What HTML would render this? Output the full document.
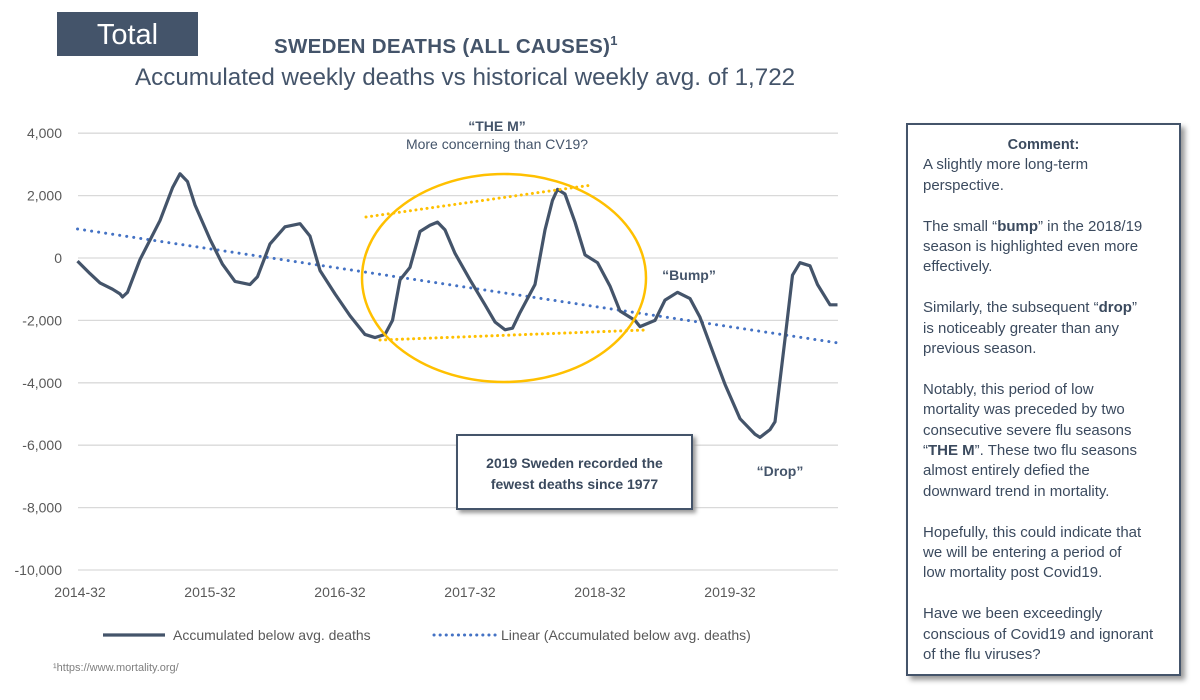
<!DOCTYPE html>
<html><head><meta charset="utf-8">
<style>
body{margin:0;width:1200px;height:700px;background:#fff;font-family:"Liberation Sans",sans-serif;color:#44546a;position:relative;overflow:hidden}
.abs{position:absolute}
#comment{left:906px;top:123px;height:553px;width:275px;border:2px solid #44546a;box-shadow:4px 4px 5px #999;background:#fff;padding:0 0 0 15px;box-sizing:border-box;font-size:15px;line-height:20.4px;color:#3b4a5e;white-space:nowrap}
#comment p{margin:0 0 20.4px 0}
</style></head><body>
<div class="abs" style="left:57px;top:12px;width:141px;height:44px;background:#44546a;color:#fff;font-size:29px;line-height:46px;text-align:center">Total</div>
<div class="abs" style="left:274px;top:33px;font-size:20.5px;font-weight:bold;color:#44546a;letter-spacing:0.3px">SWEDEN DEATHS (ALL CAUSES)<sup style="font-size:13px">1</sup></div>
<div class="abs" style="left:135px;top:64px;font-size:24.2px;color:#44546a">Accumulated weekly deaths vs historical weekly avg. of 1,722</div>
<svg class="abs" style="left:0;top:0" width="900" height="700" id="chart"></svg>
<div class="abs" style="left:456px;top:434px;width:237px;height:76px;border:2px solid #44546a;box-sizing:border-box;box-shadow:3px 3px 4px #999;background:#fff;text-align:center;font-size:14px;font-weight:bold;line-height:21px;padding-top:17px;color:#3b4a5e">2019 Sweden recorded the<br>fewest deaths since 1977</div>
<div id="comment" class="abs">
<div style="text-align:center;font-weight:bold;margin-top:10px;padding-right:15px;font-size:14.5px">Comment:</div>
<p>A slightly more long-term<br>perspective.</p>
<p>The small “<b>bump</b>” in the 2018/19<br>season is highlighted even more<br>effectively.</p>
<p>Similarly, the subsequent “<b>drop</b>”<br>is noticeably greater than any<br>previous season.</p>
<p>Notably, this period of low<br>mortality was preceded by two<br>consecutive severe flu seasons<br>“<b>THE M</b>”. These two flu seasons<br>almost entirely defied the<br>downward trend in mortality.</p>
<p>Hopefully, this could indicate that<br>we will be entering a period of<br>low mortality post Covid19.</p>
<p>Have we been exceedingly<br>conscious of Covid19 and ignorant<br>of the flu viruses?</p>
</div>
<script>
const yTicks=[4000,2000,0,-2000,-4000,-6000,-8000,-10000];
const xLabels=["2014-32","2015-32","2016-32","2017-32","2018-32","2019-32"];
const weeks=[-1,4,8,13,16,17,19,24,32,37,40,43,46,52,57,62,68,71,76,82,88,92,96,102,108,114,118,122,125,128,132,136,140,143,146,150,156,162,166,170,173,176,182,186,189,191,194,198,202,207,212,216,222,224,230,234,239,244,248,254,258,264,270,272,276,278,282,285,288,292,295,300,303];
const values=[-100,-500,-800,-1000,-1150,-1250,-1100,-50,1200,2250,2700,2450,1700,600,-200,-750,-850,-600,450,1000,1100,700,-400,-1150,-1850,-2450,-2550,-2450,-2000,-700,-300,850,1050,1150,900,150,-700,-1500,-2050,-2300,-2250,-1750,-850,900,1850,2200,2050,1150,100,-150,-900,-1700,-2000,-2200,-2000,-1350,-1100,-1300,-1900,-3200,-4050,-5150,-5650,-5750,-5500,-5250,-2600,-550,-150,-250,-850,-1500,-1500];
const trendWeeks=[-1,303];
const trendValues=[930,-2720];
const svg=document.getElementById('chart');
const NS='http://www.w3.org/2000/svg';
const X=w=>80+w*2.5;
const Y=v=>258-v*0.0312;
function mk(t,a){const e=document.createElementNS(NS,t);for(const k in a)e.setAttribute(k,a[k]);svg.appendChild(e);return e;}
yTicks.forEach(v=>{
 const l=mk('line',{x1:78,x2:838,y1:Y(v),y2:Y(v),stroke:'#d9d9d9','stroke-width':1.3});
 
 
 const t=mk('text',{x:62,y:Y(v)+5,'text-anchor':'end','font-size':14,fill:'#595959'});
 t.textContent=v.toLocaleString('en-US');
 
 
});
xLabels.forEach((s,i)=>{
 const t=mk('text',{x:X(i*52),y:597,'text-anchor':'middle','font-size':14,fill:'#595959'});
 t.textContent=s;
 
 
});
const tr=mk('line',{x1:X(trendWeeks[0]),y1:Y(trendValues[0]),x2:X(trendWeeks[1]),y2:Y(trendValues[1]),stroke:'#4472c4','stroke-width':3,'stroke-dasharray':'0.1 7','stroke-linecap':'round'});


const p=mk('polyline',{points:weeks.map((w,i)=>X(w)+','+Y(values[i])).join(' '),fill:'none',stroke:'#44546a','stroke-width':3.2,'stroke-linejoin':'round'});


const el=mk('ellipse',{cx:504,cy:278,rx:142,ry:104,fill:'none',stroke:'#ffc000','stroke-width':2.5});


[[366,217,592,185],[380,340,645,330]].forEach(c=>{
 const l=mk('line',{x1:c[0],y1:c[1],x2:c[2],y2:c[3],stroke:'#ffc000','stroke-width':3,'stroke-dasharray':'0.1 5.5','stroke-linecap':'round'});
 
 
});
function txt(x,y,s,o,name){const t=mk('text',Object.assign({x:x,y:y,'font-size':14,fill:'#44546a'},o));t.textContent=s;}
txt(497,131,'“THE M”',{'font-weight':'bold','text-anchor':'middle'},'the-m-label');
txt(497,149,'More concerning than CV19?',{'text-anchor':'middle'},'the-m-sublabel');
txt(689,280,'“Bump”',{'font-weight':'bold','text-anchor':'middle'},'bump-label');
txt(780,476,'“Drop”',{'font-weight':'bold','text-anchor':'middle'},'drop-label');
const l1=mk('line',{x1:103,x2:165,y1:635,y2:635,stroke:'#44546a','stroke-width':3.2});


txt(173,640,'Accumulated below avg. deaths',{fill:'#595959'},'legend-entry-deaths');
const l2=mk('line',{x1:434,x2:496,y1:635,y2:635,stroke:'#4472c4','stroke-width':3,'stroke-dasharray':'0.1 6','stroke-linecap':'round'});


txt(501,640,'Linear (Accumulated below avg. deaths)',{fill:'#595959'},'legend-entry-trend');
txt(53,671,'¹https://www.mortality.org/',{'font-size':11,fill:'#7f7f7f'},'footnote');
</script>
</body></html>
